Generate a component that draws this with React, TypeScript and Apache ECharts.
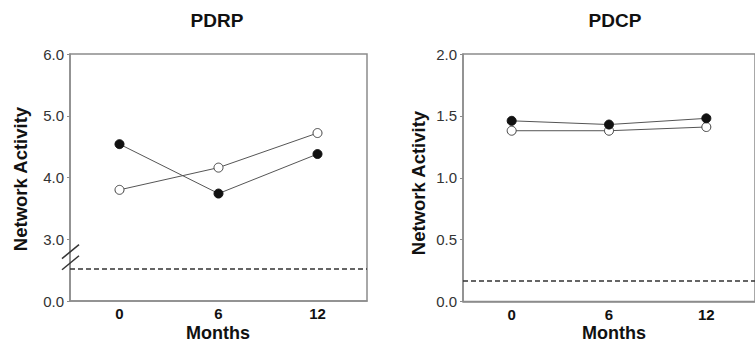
import React, { useEffect, useRef } from "react";
import * as echarts from "echarts";

// ---- data ----
const months = ["0", "6", "12"];

// PDRP (left panel) — y axis has a break: the bottom tick "0.0" sits at axis value 2
const pdrpFilled = [4.54, 3.74, 4.38];
const pdrpOpen = [3.8, 4.16, 4.72];
const pdrpControl = 2.53; // dashed reference line, in broken-axis units
const pdrpTicks = [2, 3, 4, 5, 6];
const pdrpTickLabels = ["0.0", "3.0", "4.0", "5.0", "6.0"];

// PDCP (right panel)
const pdcpFilled = [1.46, 1.43, 1.48];
const pdcpOpen = [1.38, 1.38, 1.41];
const pdcpControl = 0.17;

const titles = ["PDRP", "PDCP"];
const yName = "Network Activity";
const xName = "Months";

const FONT = "'Liberation Sans', Arial, Helvetica, sans-serif";
const AXIS_GRAY = "#8c8c8c";

export default function App() {
  const ref = useRef<HTMLDivElement>(null);

  useEffect(() => {
    if (!ref.current) return;
    const chart = echarts.init(ref.current, undefined, { renderer: "svg" });

    const xAxisBase = (gridIndex: number) => ({
      type: "category" as const,
      gridIndex,
      data: months,
      boundaryGap: true,
      axisLine: { show: true, lineStyle: { color: AXIS_GRAY, width: 1.5 } },
      axisTick: { show: false },
      axisLabel: {
        color: "#111",
        fontWeight: "bold" as const,
        fontSize: 15,
        fontFamily: FONT,
        margin: 5,
      },
      splitLine: { show: false },
    });

    const yAxisBase = (gridIndex: number) => ({
      type: "value" as const,
      gridIndex,
      axisLine: { show: true, lineStyle: { color: AXIS_GRAY, width: 1.5 } },
      axisTick: { show: true, length: 3, lineStyle: { color: AXIS_GRAY } },
      axisLabel: { color: "#333", fontSize: 15, fontFamily: FONT, margin: 6 },
      splitLine: { show: false },
    });

    const lineSeries = (
      data: number[],
      filled: boolean,
      xi: number,
      control?: number
    ) => ({
      type: "line" as const,
      xAxisIndex: xi,
      yAxisIndex: xi,
      data,
      symbol: "circle",
      symbolSize: 9,
      z: filled ? 4 : 3,
      lineStyle: { color: "#555", width: 1 },
      itemStyle: filled
        ? { color: "#111", borderColor: "#111", borderWidth: 1 }
        : { color: "#fff", borderColor: "#444", borderWidth: 1 },
      markLine:
        control === undefined
          ? undefined
          : {
              silent: true,
              symbol: "none",
              label: { show: false },
              lineStyle: { color: "#333", type: [5, 3], width: 1.5 },
              data: [{ yAxis: control }],
            },
    });

    const text = (t: string, x: number, y: number, size: number, rot = 0) => ({
      type: "text",
      x,
      y,
      rotation: rot,
      style: {
        text: t,
        fontFamily: FONT,
        fontWeight: "bold",
        fontSize: size,
        fill: "#111",
        textAlign: "center",
        textVerticalAlign: "middle",
      },
    });

    const option: any = {
      animation: false,
      grid: [
        {
          left: 70,
          top: 54,
          width: 297,
          height: 247,
          show: true,
          borderColor: AXIS_GRAY,
          borderWidth: 1.5,
          containLabel: false,
        },
        {
          left: 463,
          top: 54,
          width: 303,
          height: 247.5,
          show: true,
          borderColor: AXIS_GRAY,
          borderWidth: 1.5,
          containLabel: false,
        },
      ],
      xAxis: [xAxisBase(0), xAxisBase(1)],
      yAxis: [
        {
          ...yAxisBase(0),
          min: 2,
          max: 6,
          interval: 1,
          axisLabel: {
            ...yAxisBase(0).axisLabel,
            formatter: (v: number) => {
              const i = pdrpTicks.indexOf(v);
              return i >= 0 ? pdrpTickLabels[i] : "";
            },
          },
        },
        {
          ...yAxisBase(1),
          min: 0,
          max: 2,
          interval: 0.5,
          axisLabel: {
            ...yAxisBase(1).axisLabel,
            formatter: (v: number) => v.toFixed(1),
          },
        },
      ],
      series: [
        lineSeries(pdrpOpen, false, 0, pdrpControl),
        lineSeries(pdrpFilled, true, 0),
        lineSeries(pdcpOpen, false, 1, pdcpControl),
        lineSeries(pdcpFilled, true, 1),
      ],
      graphic: [
        text(titles[0], 217, 20, 19),
        text(titles[1], 615, 20, 19),
        text(yName, 20, 179, 18.5, Math.PI / 2),
        text(yName, 418, 183, 18.5, Math.PI / 2),
        text(xName, 218, 333, 18),
        text(xName, 614, 333, 18),
      ],
    };

    chart.setOption(option);

    // axis-break slashes on the left y axis, positioned via the axis scale
    const axisX = chart.convertToPixel({ gridIndex: 0 }, [0, 2])[0] - 49.5;
    const yA = chart.convertToPixel({ yAxisIndex: 0 }, 2.8) as number;
    const yB = chart.convertToPixel({ yAxisIndex: 0 }, 2.62) as number;
    const slash = (yc: number) => ({
      type: "line",
      shape: { x1: axisX - 8, y1: yc + 7, x2: axisX + 9, y2: yc - 7 },
      style: { stroke: "#333", lineWidth: 1.5 },
      z: 10,
    });
    chart.setOption({
      graphic: [...option.graphic, slash(yA), slash(yB)],
    });

    return () => chart.dispose();
  }, []);

  return (
    <div
      ref={ref}
      style={{ position: "fixed", left: 0, top: 0, width: 755, height: 348, background: "#fff" }}
    />
  );
}
